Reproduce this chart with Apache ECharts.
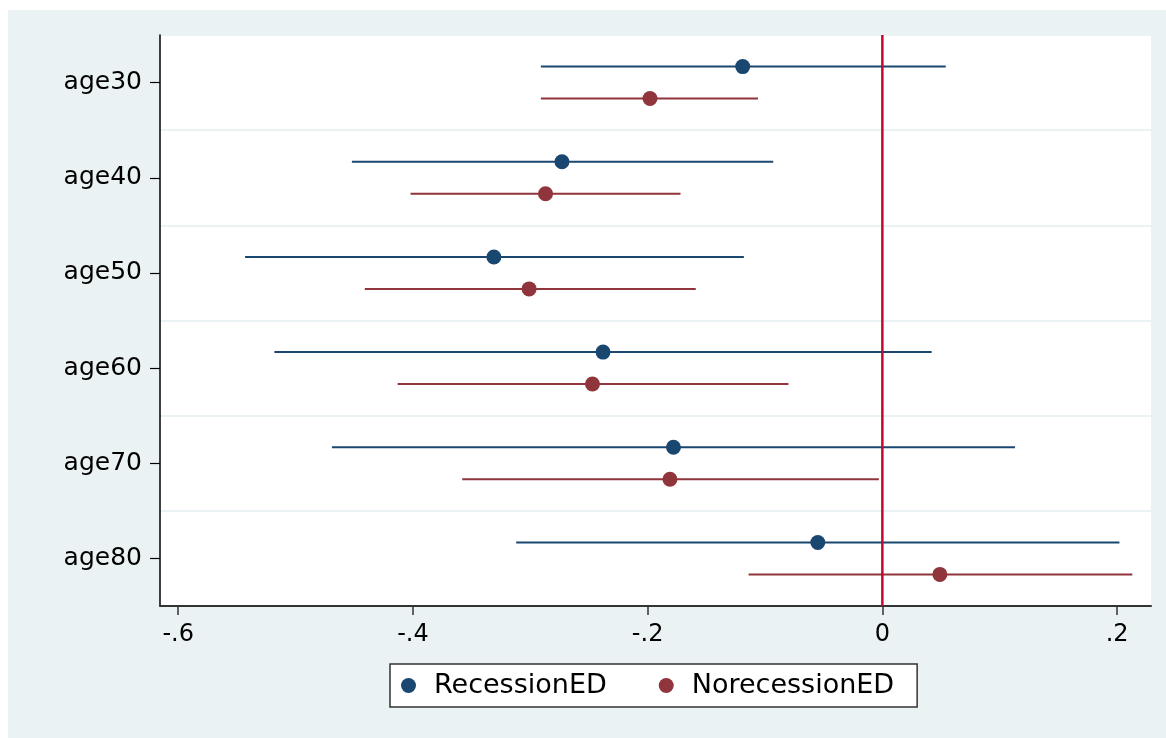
<!DOCTYPE html>
<html><head><meta charset="utf-8">
<script src="https://cdn.jsdelivr.net/npm/echarts@6/dist/echarts.min.js"></script>
<style>
html,body{margin:0;padding:0;background:#fff;}
#panel{position:absolute;left:8px;top:10px;width:1158px;height:728px;background:#EAF2F3;}
#chart{position:absolute;left:0;top:0;width:1166px;height:738px;}
</style></head><body>
<div id="panel"></div><div id="chart"></div>
<script>
const categories = ['age30','age40','age50','age60','age70','age80'];
const seriesNames = ['RecessionED','NorecessionED'];
const recLow  = [-0.291, -0.452, -0.543, -0.518, -0.469, -0.312];
const recEst  = [-0.119, -0.273, -0.331, -0.238, -0.178, -0.055];
const recHigh = [ 0.054, -0.093, -0.118,  0.042,  0.113,  0.202];
const norLow  = [-0.291, -0.402, -0.441, -0.413, -0.358, -0.114];
const norEst  = [-0.198, -0.287, -0.301, -0.247, -0.181,  0.049];
const norHigh = [-0.106, -0.172, -0.159, -0.080, -0.003,  0.213];
const tickValues = [-0.6, -0.4, -0.2, 0, 0.2];
const tickLabels = ['-.6', '-.4', '-.2', '0', '.2'];
const refLine = [0];

const colors = ['#1A476F', '#90353B'];
const refColor = '#C4082F';
const FONT = 'DejaVu Sans';

function rows(low, est, high) {
  return categories.map((c, i) => [low[i], est[i], high[i], i]);
}
function makeRender(dir, color) {
  return function (params, api) {
    const idx = api.value(3);
    const band = api.size([0, 1])[1];
    const off = dir * band * 0.168;
    const pL = api.coord([api.value(0), idx]);
    const pE = api.coord([api.value(1), idx]);
    const pH = api.coord([api.value(2), idx]);
    return {
      type: 'group',
      children: [
        { type: 'line', shape: { x1: pL[0], y1: pL[1] + off, x2: pH[0], y2: pH[1] + off },
          style: { stroke: color, lineWidth: 2 } },
        { type: 'circle', shape: { cx: pE[0], cy: pE[1] + off, r: 7.5 },
          style: { fill: color } }
      ]
    };
  };
}
function renderRef(params, api) {
  const cs = params.coordSys;
  const p = api.coord([api.value(0), 0]);
  return { type: 'line', shape: { x1: p[0], y1: cs.y, x2: p[0], y2: cs.y + cs.height },
           style: { stroke: refColor, lineWidth: 2.5 } };
}

const chart = echarts.init(document.getElementById('chart'), null, { renderer: 'canvas' });
chart.setOption({
  backgroundColor: 'transparent',
  animation: false,
  grid: { left: 160, right: 15, top: 35, bottom: 132, show: true, backgroundColor: '#fff',
          borderWidth: 0, containLabel: false, outerBoundsMode: 'none' },
  xAxis: {
    type: 'value', min: -0.6155, max: 0.2289,
    axisLine: { show: true, onZero: false, lineStyle: { color: '#333', width: 2 } },
    axisTick: { show: true, length: 9, customValues: tickValues, lineStyle: { color: '#333', width: 1.5 } },
    axisLabel: {
      customValues: tickValues, margin: 17, fontFamily: FONT, fontSize: 24, color: '#000',
      formatter: function (v) {
        const k = tickValues.findIndex(t => Math.abs(t - v) < 1e-9);
        return k >= 0 ? tickLabels[k] : '';
      }
    },
    splitLine: { show: false }
  },
  yAxis: {
    type: 'category', data: categories, inverse: true,
    axisLine: { show: true, onZero: false, lineStyle: { color: '#000', width: 1.5 } },
    axisTick: { show: true, alignWithLabel: true, length: 10, lineStyle: { color: '#000', width: 1.2 } },
    axisLabel: { margin: 18, fontFamily: FONT, fontSize: 25, color: '#000', padding: [5, 0, 0, 0] },
    splitLine: { show: true, lineStyle: { color: '#EAF2F3', width: 2 } }
  },
  legend: {
    left: 390, top: 664, orient: 'horizontal',
    data: [{ name: seriesNames[0], icon: 'circle' }, { name: seriesNames[1], icon: 'circle' }],
    itemWidth: 15, itemHeight: 15, itemGap: 52,
    padding: [8, 23, 8, 11],
    backgroundColor: '#fff', borderColor: '#333', borderWidth: 1.5, borderRadius: 0,
    textStyle: { fontFamily: FONT, fontSize: 27, color: '#000', padding: [0, 0, 0, 13] }
  },
  series: [
    {
      name: seriesNames[0], type: 'custom', itemStyle: { color: colors[0] },
      data: rows(recLow, recEst, recHigh),
      encode: { x: [0, 1, 2], y: 3 },
      renderItem: makeRender(-1, colors[0]), z: 3
    },
    {
      name: seriesNames[1], type: 'custom', itemStyle: { color: colors[1] },
      data: rows(norLow, norEst, norHigh),
      encode: { x: [0, 1, 2], y: 3 },
      renderItem: makeRender(1, colors[1]), z: 3
    },
    {
      name: 'ref', type: 'custom', silent: true,
      data: refLine.map(v => [v, 0]),
      encode: { x: 0, y: 1 },
      renderItem: renderRef, z: 4
    }
  ]
});
</script>
</body></html>
